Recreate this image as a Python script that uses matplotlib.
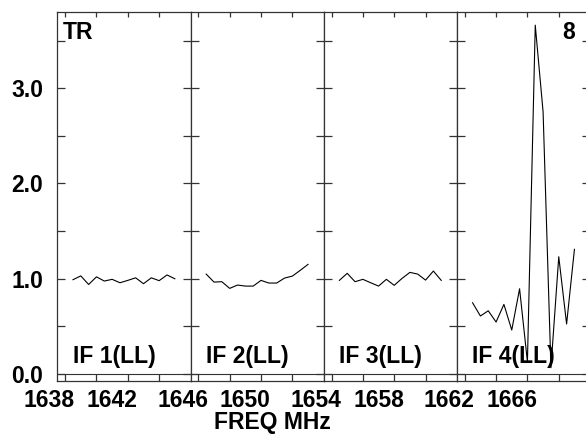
import matplotlib
matplotlib.use('Agg')
import matplotlib.pyplot as plt

plt.rcParams['font.family'] = ['Liberation Sans', 'DejaVu Sans']
plt.rcParams['font.weight'] = 'bold'

# ---- data ----
if_starts = [1638, 1646, 1654, 1662]
if_names = ['IF 1(LL)', 'IF 2(LL)', 'IF 3(LL)', 'IF 4(LL)']
chan_offsets = [1.5, 2.0, 2.5, 3.0, 3.5, 4.0, 4.5, 5.0, 5.5, 6.0, 6.5, 7.0, 7.5, 8.0]

if1_vals = [0.99, 1.03, 0.94, 1.02, 0.976, 0.994, 0.958, 0.983, 1.01, 0.948, 1.01, 0.98, 1.04, 1.0]
if2_vals = [1.049, 0.965, 0.969, 0.899, 0.934, 0.923, 0.923, 0.983, 0.955, 0.955, 1.007, 1.028, 1.088, 1.151]
if3_vals = [0.983, 1.057, 0.969, 0.994, 0.958, 0.923, 0.994, 0.931, 1.004, 1.067, 1.049, 0.986, 1.081, 0.983]
if4_vals = [0.748, 0.609, 0.664, 0.546, 0.731, 0.462, 0.895, 0.129, 3.662, 2.752, 0.066, 1.231, 0.525, 1.309]
series = [if1_vals, if2_vals, if3_vals, if4_vals]

ytick_vals = [0.0, 0.5, 1.0, 1.5, 2.0, 2.5, 3.0, 3.5]
ytick_labels = ['0.0', '', '1.0', '', '2.0', '', '3.0', '']
xlabel_vals = [1638, 1642, 1646, 1650, 1654, 1658, 1662, 1666]
xtick_offsets = [1, 3, 5, 7]

# ---- layout ----
W, H = 586, 434
fig = plt.figure(figsize=(W / 100, H / 100), dpi=100)
left_px, panel_w_px = 57.3, 133.2
bottom_px, top_px = 380.7, 12.0
FS = 16.5
spine_col = '#333333'

axes = []
for i, f0 in enumerate(if_starts):
    ax = fig.add_axes([(left_px + i * panel_w_px) / W, (H - bottom_px) / H,
                       panel_w_px / W, (bottom_px - top_px) / H])
    axes.append(ax)
    freqs = [f0 + c for c in chan_offsets]
    ax.plot(freqs, series[i], color='black', lw=0.8)
    ax.axhline(0, color=spine_col, lw=0.8)
    ax.set_xlim(f0 + 0.5, f0 + 9.0)
    ax.set_ylim(-0.07, 3.8)
    for s in ax.spines.values():
        s.set_color(spine_col)
        s.set_linewidth(0.9)

    ticks = [f0 + t for t in xtick_offsets]
    ax.set_xticks(ticks)
    ax.set_xticks(ticks, minor=True)
    ax.xaxis.remove_overlapping_locs = False
    ax.tick_params(axis='x', which='major', direction='in', bottom=True, top=False,
                   length=4.8, width=0.9, color=spine_col, labelbottom=False)
    ax.tick_params(axis='x', which='minor', direction='in', bottom=False, top=True,
                   length=3.4, width=0.9, color=spine_col, labelbottom=False)

    ax.set_yticks(ytick_vals)
    ax.set_yticklabels(ytick_labels)
    ax.tick_params(axis='y', which='major', direction='in', left=True, right=True,
                   length=5.8, width=0.9, color=spine_col, pad=10,
                   labelleft=(i == 0), labelsize=FS)

    for lv in xlabel_vals:
        if f0 - 1 <= lv <= f0 + 5:
            ax.annotate(str(lv), xy=(lv, 0), xycoords=('data', 'axes fraction'),
                        xytext=(0, -26), textcoords='offset pixels',
                        ha='center', va='baseline', fontsize=FS, fontweight='bold',
                        annotation_clip=False)

    ax.annotate(if_names[i], xy=(0, 0), xycoords='axes fraction',
                xytext=(15.4, 17.7), textcoords='offset pixels',
                ha='left', va='baseline', fontsize=FS, fontweight='bold')

axes[0].annotate('TR', xy=(0, 1), xycoords='axes fraction',
                 xytext=(5.4, -27.3), textcoords='offset pixels',
                 ha='left', va='baseline', fontsize=FS, fontweight='bold')
axes[3].annotate('8', xy=(1, 1), xycoords='axes fraction',
                 xytext=(-15, -27.3), textcoords='offset pixels',
                 ha='right', va='baseline', fontsize=FS, fontweight='bold')

fig.text(272.2 / W, 4.5 / H, 'FREQ MHz', ha='center', va='baseline',
         fontsize=FS, fontweight='bold')

fig.savefig('out.png', dpi=100)
